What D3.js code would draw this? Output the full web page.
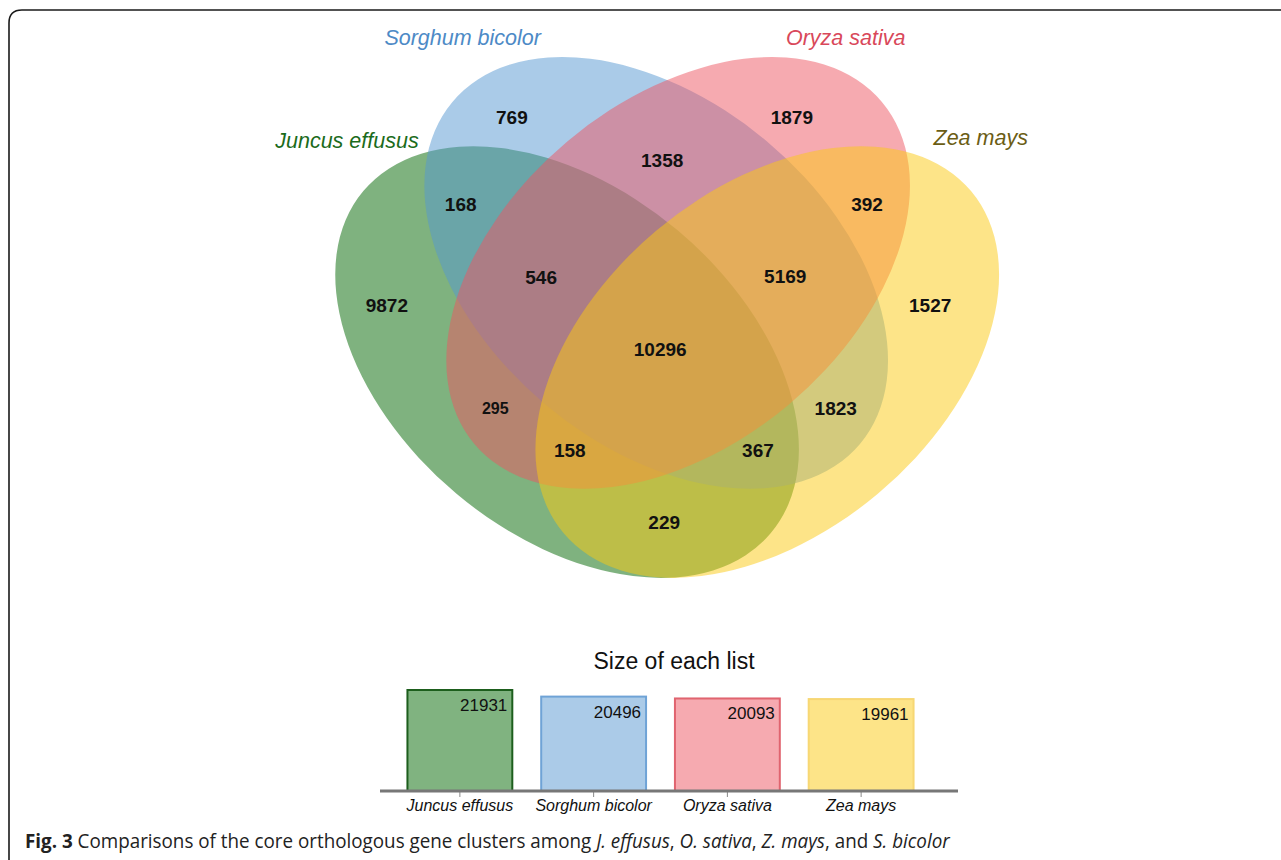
<!DOCTYPE html>
<html>
<head>
<meta charset="utf-8">
<script src="https://cdn.jsdelivr.net/npm/d3@7"></script>
<style>
    html, body { margin: 0; padding: 0; background: #fff; }
    svg { display: block; }
</style>
</head>
<body>
<svg id="chart" width="1281" height="860"></svg>
<script>
// data
const setNames = ['Juncus effusus', 'Sorghum bicolor', 'Oryza sativa', 'Zea mays'];
const listSizes = [21931, 20496, 20093, 19961];
const regionKeys = ['J', 'S', 'O', 'Z', 'JS', 'SO', 'OZ', 'JO', 'SZ', 'JZ', 'JSO', 'SOZ', 'JOZ', 'JSZ', 'JSOZ'];
const regionCounts = [9872, 769, 1879, 1527, 168, 1358, 392, 295, 1823, 229, 546, 5169, 158, 367, 10296];

// styles
const fillColors = ['#006600', '#5597d1', '#ed5561', '#fbc911'];
const labelColors = ['#1b6b1b', '#4d8ac6', '#d9485a', '#6b5d14'];
const barFills = ['#80b380', '#abcbe8', '#f6aab0', '#fde488'];
const barStrokes = ['#1d5e1d', '#6fa3d6', '#e0646f', '#f7d774'];

// venn layout in unit space
const ellipses = [
    { cx: 0.349, cy: 0.585, rot: 40 },
    { cx: 0.483, cy: 0.413, rot: 40 },
    { cx: 0.516, cy: 0.413, rot: -40 },
    { cx: 0.650, cy: 0.585, rot: -40 }
];
const setLabelPos = [[0.018, 0.158], [0.192, -0.042], [0.768, -0.042], [0.971, 0.151]];
const regionPos = {
    J: [0.078, 0.475], S: [0.266, 0.112], O: [0.687, 0.112], Z: [0.895, 0.475],
    JS: [0.189, 0.280], SO: [0.492, 0.195], OZ: [0.800, 0.280],
    JO: [0.241, 0.674], SZ: [0.753, 0.674], JZ: [0.495, 0.894],
    JSO: [0.310, 0.421], SOZ: [0.677, 0.419], JOZ: [0.353, 0.755], JSZ: [0.636, 0.755],
    JSOZ: [0.489, 0.560]
};

const svg = d3.select('#chart');

// frame
svg.append('path')
    .attr('d', 'M9,880 V23 Q9,10 22,10 H1300')
    .attr('fill', 'none')
    .attr('stroke', '#1a1a1a')
    .attr('stroke-width', 1.6);

const vx = d3.scaleLinear().domain([0, 1]).range([335, 1000]);
const vy = d3.scaleLinear().domain([0, 1]).range([59, 577]);

svg.append('g')
    .selectAll('ellipse')
    .data(ellipses)
    .join('ellipse')
    .attr('transform', d => `translate(${vx(d.cx)},${vy(d.cy)}) rotate(${d.rot})`)
    .attr('rx', 266)
    .attr('ry', 172)
    .attr('fill', (d, i) => fillColors[i])
    .attr('fill-opacity', 0.5);

svg.append('g')
    .selectAll('text')
    .data(setNames)
    .join('text')
    .attr('x', (d, i) => vx(setLabelPos[i][0]))
    .attr('y', (d, i) => vy(setLabelPos[i][1]))
    .attr('dy', '0.35em')
    .attr('text-anchor', 'middle')
    .attr('font-family', 'Liberation Sans, Arial, sans-serif')
    .attr('font-style', 'italic')
    .attr('font-size', 21.5)
    .attr('fill', (d, i) => labelColors[i])
    .text(d => d);

svg.append('g')
    .selectAll('text')
    .data(regionKeys.map((k, i) => ({ key: k, count: regionCounts[i] })))
    .join('text')
    .attr('x', d => vx(regionPos[d.key][0]))
    .attr('y', d => vy(regionPos[d.key][1]))
    .attr('dy', '0.36em')
    .attr('text-anchor', 'middle')
    .attr('font-family', 'Liberation Sans, Arial, sans-serif')
    .attr('font-weight', 'bold')
    .attr('font-size', d => d.key === 'JO' ? 16 : 19)
    .attr('fill', '#111')
    .text(d => d.count);

// size of each list
const x = d3.scaleBand().domain(setNames).range([393, 928]).paddingInner(0.216).paddingOuter(0.108);
const y = d3.scaleLinear().domain([0, d3.max(listSizes)]).range([791, 690]);

svg.append('text')
    .attr('x', 674)
    .attr('y', 669)
    .attr('text-anchor', 'middle')
    .attr('font-family', 'Liberation Sans, Arial, sans-serif')
    .attr('font-size', 23)
    .attr('fill', '#111')
    .text('Size of each list');

svg.append('g')
    .selectAll('rect')
    .data(listSizes)
    .join('rect')
    .attr('x', (d, i) => x(setNames[i]))
    .attr('y', d => y(d))
    .attr('width', x.bandwidth())
    .attr('height', d => y(0) - y(d))
    .attr('fill', (d, i) => barFills[i])
    .attr('stroke', (d, i) => barStrokes[i])
    .attr('stroke-width', 2);

svg.append('g')
    .selectAll('text')
    .data(listSizes)
    .join('text')
    .attr('x', (d, i) => x(setNames[i]) + x.bandwidth() - 5)
    .attr('y', d => y(d) + 21)
    .attr('text-anchor', 'end')
    .attr('font-family', 'Liberation Sans, Arial, sans-serif')
    .attr('font-size', 17)
    .attr('fill', '#111')
    .text(d => d);

const axis = svg.append('g')
    .attr('transform', `translate(0,${y(0)})`)
    .call(d3.axisBottom(x).tickSize(6).tickSizeOuter(0));

axis.select('.domain').remove();
axis.selectAll('.tick line').attr('stroke', '#888');
axis.selectAll('.tick text')
    .attr('font-family', 'Liberation Sans, Arial, sans-serif')
    .attr('font-style', 'italic')
    .attr('font-size', 16)
    .attr('fill', '#111');

axis.append('line')
    .attr('x1', x.range()[0] - 13)
    .attr('x2', x.range()[1] + 30)
    .attr('stroke', '#777')
    .attr('stroke-width', 3);

// caption, squeezed horizontally to the width of the original
const caption = svg.append('text')
    .attr('font-family', 'Open Sans, sans-serif')
    .attr('font-size', 19.5)
    .attr('fill', '#222');

const captionParts = [
    ['Fig. 3', 'bold'], [' Comparisons of the core orthologous gene clusters among ', ''],
    ['J. effusus', 'italic'], [', ', ''], ['O. sativa', 'italic'], [', ', ''],
    ['Z. mays', 'italic'], [', and ', ''], ['S. bicolor', 'italic']
];

caption.selectAll('tspan')
    .data(captionParts)
    .join('tspan')
    .attr('font-weight', d => d[1] === 'bold' ? 'bold' : null)
    .attr('font-style', d => d[1] === 'italic' ? 'italic' : null)
    .text(d => d[0]);

const captionWidth = caption.node().getComputedTextLength();
caption.attr('transform', `translate(25,848) scale(${925 / captionWidth},1)`);
</script>
</body>
</html>
